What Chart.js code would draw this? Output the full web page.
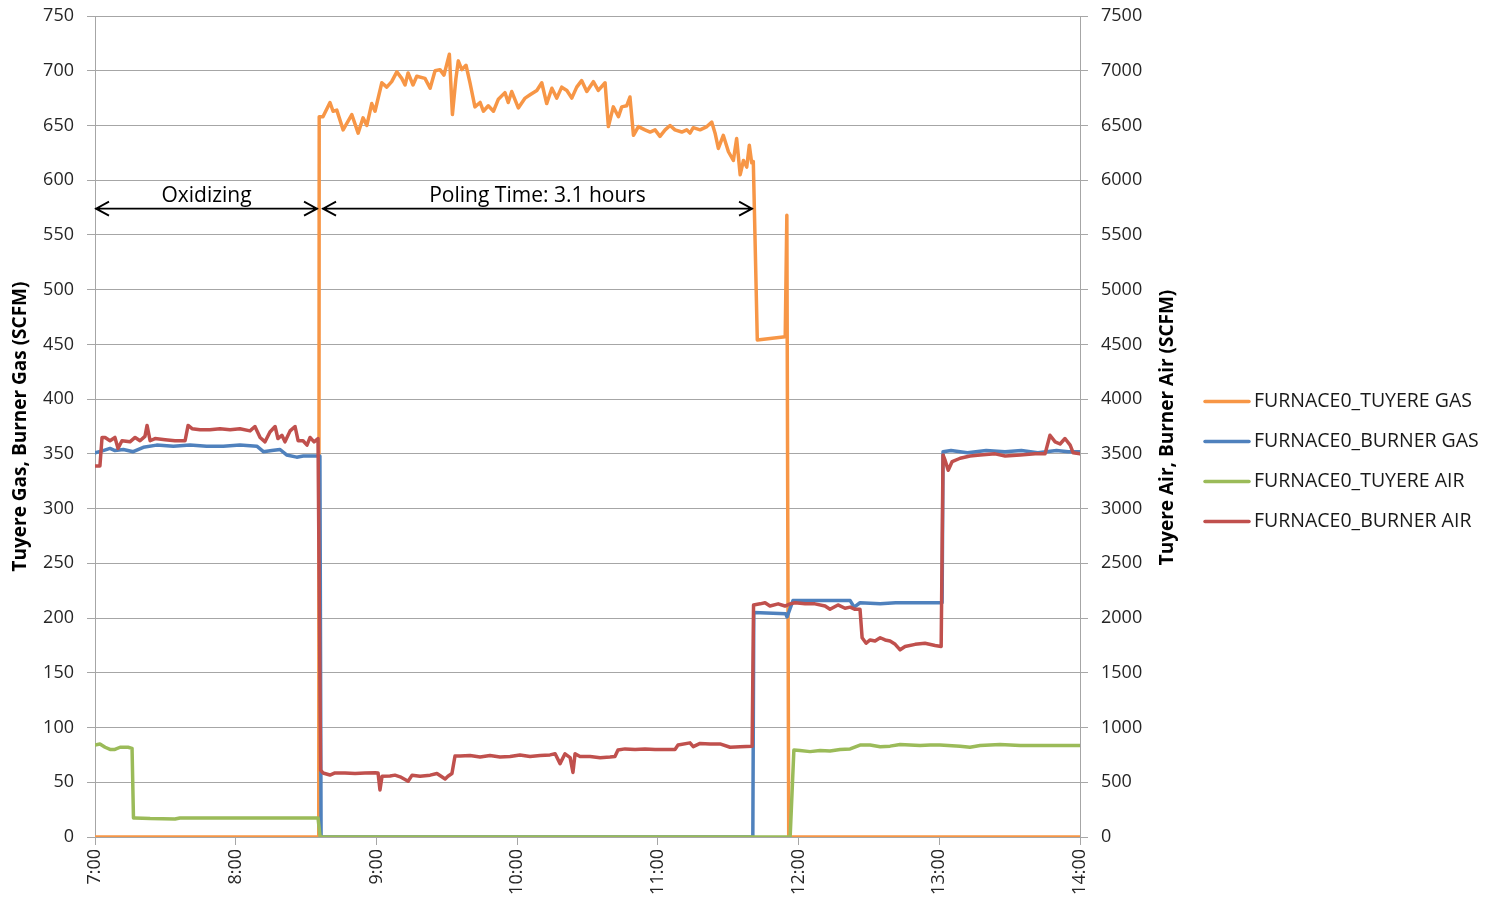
<!DOCTYPE html>
<html lang="en">
<head>
<meta charset="UTF-8">
<title>Furnace 0 Gas and Air Flow</title>
<style>
  html, body { margin: 0; padding: 0; background: #fff; }
</style>
</head>
<body>
<canvas id="flowChart" width="1492" height="907"></canvas>

<script src="https://cdn.jsdelivr.net/npm/chart.js"></script>
<script>
    // time axis is minutes after 7:00
    const hourLabels = ['7:00', '8:00', '9:00', '10:00', '11:00', '12:00', '13:00', '14:00'];

    // FURNACE0_TUYERE GAS (left axis)
    const tuyereGasMin = [
        0, 95.4, 95.6, 97.2, 100.2, 101.5, 103.1, 105.8, 109.5, 112.2,
        114.3, 115.9, 118.0, 119.4, 122.3, 124.4, 126.5, 128.7, 130.8, 132.2,
        133.5, 135.6, 137.2, 140.7, 142.9, 145.0, 147.1, 148.8, 151.1, 152.4,
        153.9, 154.9, 156.4, 158.2, 159.9, 162.0, 164.2, 165.6, 167.7, 169.9,
        172.0, 174.8, 176.2, 177.7, 180.5, 183.4, 185.5, 188.4, 190.5, 192.6,
        194.8, 196.9, 199.0, 201.2, 203.3, 205.4, 207.5, 209.7, 212.5, 214.6,
        217.5, 218.9, 221.0, 223.2, 224.6, 226.7, 228.1, 229.6, 231.7, 234.5,
        236.7, 238.8, 240.9, 243.1, 245.2, 247.3, 250.2, 252.3, 253.7, 255.1,
        258.0, 260.9, 263.0, 264.4, 265.8, 267.9, 270.1, 272.2, 273.6, 275.1,
        276.5, 277.9, 279.0, 280.0, 280.7, 282.4, 294.3, 295.0, 295.8, 420
    ];
    const tuyereGasScfm = [
        0, 0, 658, 658, 671, 663, 664, 646, 660, 643,
        657, 650, 670, 663, 689, 685, 690, 699, 693, 687,
        698, 687, 695, 693, 684, 700, 701, 696, 715, 660,
        693, 709, 701, 705, 689, 667, 671, 663, 668, 663,
        674, 680, 671, 681, 666, 675, 678, 682, 689, 670,
        684, 675, 685, 682, 675, 685, 691, 681, 690, 682,
        689, 649, 667, 658, 667, 668, 676, 641, 649, 646,
        644, 646, 640, 646, 650, 646, 644, 646, 643, 648,
        646, 649, 653, 643, 629, 641, 626, 618, 638, 605,
        618, 612, 632, 616, 617, 454, 457, 568, 0, 0
    ];

    // FURNACE0_BURNER GAS (left axis)
    const burnerGasMin = [
        0, 3.5, 6.4, 8.5, 12.1, 16.3, 20.6, 26.3, 33.4, 40.5,
        47.6, 54.7, 61.8, 69.0, 71.8, 75.4, 78.9, 81.7, 86.0, 88.8,
        93.8, 95.9, 96.4, 280.5, 280.9, 294.5, 295.1, 297.6, 322.0, 323.7,
        326.2, 334.8, 341.4, 361.2, 361.6, 365, 372, 380, 388, 395,
        402, 410, 415, 420
    ];
    const burnerGasScfm = [
        351, 353, 355, 353, 354, 352, 356, 358, 357, 358,
        357, 357, 358, 357, 352, 353, 354, 349, 347, 348,
        348, 348, 0, 0, 205, 204, 201, 216, 216, 210,
        214, 213, 214, 214, 352, 353, 351, 353, 352, 353,
        351, 353, 352, 352
    ];

    // FURNACE0_TUYERE AIR (right axis)
    const tuyereAirMin = [
        0, 2.1, 4.3, 6.4, 8.5, 10.7, 14.1, 15.8, 16.4, 17.1,
        23.5, 34.1, 36.2, 95.1, 96.0, 296.4, 298.0, 300.6, 304.9, 309.2,
        313.4, 317.7, 322.0, 326.2, 330.5, 334.8, 339.0, 343.3, 347.5, 351.8,
        356.1, 360.3, 368.9, 373.1, 377.4, 385.9, 394.5, 403.0, 420
    ];
    const tuyereAirScfm = [
        840, 850, 820, 800, 800, 820, 820, 810, 174, 174,
        168, 164, 174, 174, 0, 0, 795, 790, 780, 790,
        785, 800, 805, 840, 840, 825, 830, 845, 840, 835,
        840, 840, 830, 820, 835, 845, 835, 835, 835
    ];

    // FURNACE0_BURNER AIR (right axis)
    const burnerAirMin = [
        0, 2.1, 3.0, 4.3, 6.4, 8.5, 9.8, 11.5, 14.9, 17.1,
        19.2, 21.3, 22.2, 23.5, 25.6, 29.9, 34.1, 38.4, 39.7, 41.4,
        44.8, 49.0, 53.3, 57.6, 61.8, 66.1, 68.2, 70.4, 72.5, 74.6,
        76.8, 78.0, 79.7, 81.0, 83.2, 85.3, 86.6, 88.7, 90.4, 91.7,
        93.4, 95.1, 96.2, 97.2, 100.2, 102.3, 106.6, 110.9, 115.1, 119.4,
        120.7, 121.5, 122.4, 125.8, 127.9, 130.1, 133.5, 135.2, 138.6, 142.9,
        145.8, 149.3, 150.5, 152.2, 153.5, 155.7, 159.9, 164.2, 168.4, 172.7,
        177.0, 181.2, 185.5, 189.8, 194.0, 196.2, 198.3, 200.4, 202.6, 203.8,
        204.7, 206.8, 211.1, 215.4, 219.6, 221.7, 223.0, 226.0, 230.3, 234.5,
        238.8, 243.1, 247.3, 248.6, 253.7, 255.1, 258.0, 262.3, 266.5, 270.8,
        275.1, 280.2, 280.8, 283.6, 285.7, 287.8, 291.3, 294.2, 296.4, 298.5,
        302.8, 307.0, 311.3, 313.4, 316.8, 319.8, 322.0, 324.1, 326.2, 327.1,
        328.8, 330.5, 332.6, 334.8, 336.9, 339.0, 341.2, 343.3, 345.4, 349.7,
        353.9, 358.2, 360.8, 361.6, 362.5, 363.8, 365.5, 368.9, 373.1, 377.4,
        383.8, 388.1, 394.5, 400.9, 405.1, 407.2, 409.4, 411.5, 413.6, 415.8,
        417.1, 420
    ];
    const burnerAirScfm = [
        3390, 3390, 3650, 3650, 3620, 3650, 3550, 3620, 3610, 3650,
        3620, 3660, 3760, 3620, 3640, 3630, 3620, 3620, 3760, 3730,
        3720, 3720, 3730, 3720, 3730, 3710, 3750, 3650, 3610, 3700,
        3750, 3640, 3670, 3610, 3710, 3750, 3620, 3620, 3580, 3650,
        3610, 3640, 610, 585, 566, 585, 585, 580, 585, 587,
        585, 430, 555, 557, 565, 550, 510, 565, 555, 565,
        580, 530, 555, 580, 740, 740, 745, 730, 745, 730,
        735, 750, 735, 745, 750, 760, 670, 760, 725, 590,
        760, 735, 735, 725, 730, 735, 795, 805, 800, 805,
        800, 800, 800, 840, 860, 825, 855, 850, 850, 820,
        825, 830, 2120, 2130, 2140, 2110, 2130, 2110, 2130, 2140,
        2130, 2130, 2110, 2080, 2120, 2090, 2100, 2080, 2080, 1820,
        1770, 1800, 1790, 1820, 1800, 1790, 1760, 1710, 1740, 1760,
        1770, 1750, 1740, 3490, 3440, 3350, 3430, 3460, 3480, 3490,
        3500, 3480, 3490, 3500, 3500, 3670, 3610, 3590, 3640, 3580,
        3510, 3500
    ];

    // process phases marked with double arrows above the curves
    const phaseNames = ['Oxidizing', 'Poling Time: 3.1 hours'];
    const phaseStart = [0, 96.8];
    const phaseEnd = [95.1, 280.6];

    const FONT = '"Open Sans", "Noto Sans", sans-serif';
    const GRID = '#a6a6a6';
    const TEXT = '#262626';

    Chart.defaults.font.family = FONT;
    Chart.defaults.color = TEXT;

    function toPoints(mins, vals) {
        return mins.map((m, i) => ({ x: m, y: vals[i] }));
    }

    // keep the plot area edge flush with the layout padding
    function noEdgePadding(s) {
        s.paddingTop = 0;
        s.paddingBottom = 0;
    }

    // arrows + labels for the two phases
    const phaseArrows = {
        id: 'phaseArrows',
        afterDatasetsDraw(chart) {
            const { ctx, scales: { x, yGas } } = chart;
            const yLine = yGas.getPixelForValue(574);
            const yText = yGas.getPixelForValue(586);
            ctx.save();
            ctx.strokeStyle = '#000';
            ctx.fillStyle = '#000';
            ctx.lineWidth = 1.8;
            ctx.font = '21px ' + FONT;
            ctx.textAlign = 'center';
            ctx.textBaseline = 'middle';
            for (let i = 0; i < phaseNames.length; i++) {
                const x1 = x.getPixelForValue(phaseStart[i]);
                const x2 = x.getPixelForValue(phaseEnd[i]);
                ctx.beginPath();
                ctx.moveTo(x1, yLine);
                ctx.lineTo(x2, yLine);
                ctx.moveTo(x1 + 14, yLine - 7);
                ctx.lineTo(x1 + 1, yLine);
                ctx.lineTo(x1 + 14, yLine + 7);
                ctx.moveTo(x2 - 14, yLine - 7);
                ctx.lineTo(x2 - 1, yLine);
                ctx.lineTo(x2 - 14, yLine + 7);
                ctx.stroke();
                ctx.fillText(phaseNames[i], (x1 + x2) / 2, yText);
            }
            ctx.restore();
        }
    };

    // right axis title (reads bottom to top) and the series key
    const sideKey = {
        id: 'sideKey',
        afterDraw(chart) {
            const { ctx, chartArea } = chart;
            const midY = (chartArea.top + chartArea.bottom) / 2;
            ctx.save();
            ctx.translate(chartArea.right + 88, midY + 1);
            ctx.rotate(-Math.PI / 2);
            ctx.font = 'bold 19px ' + FONT;
            ctx.fillStyle = '#000';
            ctx.textAlign = 'center';
            ctx.textBaseline = 'middle';
            ctx.fillText('Tuyere Air, Burner Air (SCFM)', 0, 0);
            ctx.restore();

            const left = chartArea.right + 125;
            const rowGap = 40;
            const sets = chart.data.datasets;
            const top = midY - (sets.length - 1) * rowGap / 2 + 35;
            ctx.save();
            ctx.font = '19.5px ' + FONT;
            ctx.textBaseline = 'middle';
            ctx.textAlign = 'left';
            ctx.lineCap = 'round';
            ctx.lineWidth = 3.5;
            sets.forEach((ds, i) => {
                const y = top + i * rowGap;
                ctx.strokeStyle = ds.borderColor;
                ctx.beginPath();
                ctx.moveTo(left, y);
                ctx.lineTo(left + 44, y);
                ctx.stroke();
                ctx.fillStyle = '#1a1a1a';
                ctx.fillText(ds.label, left + 49, y);
            });
            ctx.restore();
        }
    };

    const ctx = document.getElementById('flowChart').getContext('2d');
    const flowChart = new Chart(ctx, {
        type: 'line',
        data: {
            datasets: [
                { label: 'FURNACE0_TUYERE GAS', data: toPoints(tuyereGasMin, tuyereGasScfm), borderColor: '#f79646', yAxisID: 'yGas', order: 3 },
                { label: 'FURNACE0_BURNER GAS', data: toPoints(burnerGasMin, burnerGasScfm), borderColor: '#4f81bd', yAxisID: 'yGas', order: 2 },
                { label: 'FURNACE0_TUYERE AIR', data: toPoints(tuyereAirMin, tuyereAirScfm), borderColor: '#9bbb59', yAxisID: 'yAir', order: 1 },
                { label: 'FURNACE0_BURNER AIR', data: toPoints(burnerAirMin, burnerAirScfm), borderColor: '#c0504d', yAxisID: 'yAir', order: 0 }
            ]
        },
        options: {
            responsive: false,
            animation: false,
            elements: {
                point: { radius: 0 },
                line: { borderWidth: 3.5, tension: 0, borderJoinStyle: 'round', borderCapStyle: 'round' }
            },
            layout: { padding: { top: 16, right: 310, bottom: 0, left: 0 } },
            scales: {
                x: {
                    type: 'linear',
                    min: 0,
                    max: 420,
                    ticks: {
                        stepSize: 60,
                        autoSkip: false,
                        minRotation: 90,
                        maxRotation: 90,
                        padding: 4,
                        font: { size: 18 },
                        callback: v => hourLabels[v / 60]
                    },
                    grid: { drawOnChartArea: false, tickLength: 8, color: GRID },
                    border: { color: GRID },
                    afterFit: s => { s.height = 70; }
                },
                yGas: {
                    position: 'left',
                    min: 0,
                    max: 750,
                    ticks: { stepSize: 50, padding: 13, font: { size: 18 }, callback: v => String(v) },
                    grid: { color: GRID, tickLength: 8 },
                    border: { color: GRID },
                    title: {
                        display: true,
                        text: 'Tuyere Gas, Burner Gas (SCFM)',
                        color: '#000',
                        font: { size: 19, weight: 'bold' },
                        padding: { top: 9, bottom: 0 }
                    },
                    afterFit: s => { s.width = 95; noEdgePadding(s); }
                },
                yAir: {
                    position: 'right',
                    min: 0,
                    max: 7500,
                    ticks: { stepSize: 500, padding: 13, font: { size: 18 }, callback: v => String(v) },
                    grid: { drawOnChartArea: false, color: GRID, tickLength: 8 },
                    border: { color: GRID },
                    afterFit: s => { s.width = 102; noEdgePadding(s); }
                }
            },
            plugins: {
                legend: { display: false },
                tooltip: { enabled: false }
            }
        },
        plugins: [phaseArrows, sideKey]
    });
</script>
</body>
</html>
